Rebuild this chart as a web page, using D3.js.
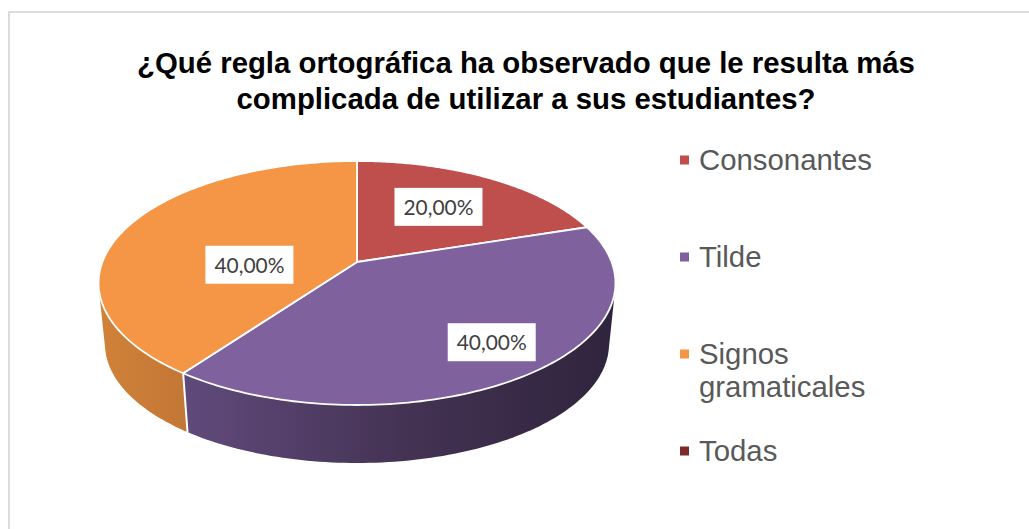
<!DOCTYPE html>
<html><head><meta charset="utf-8">
<script src="https://cdn.jsdelivr.net/npm/d3@7/dist/d3.min.js"></script>
<style>html,body{margin:0;padding:0;background:#fff}svg{display:block}</style>
</head><body><svg id="c" width="1029" height="529"></svg>
<script>
const titleLines = ["¿Qué regla ortográfica ha observado que le resulta más", "complicada de utilizar a sus estudiantes?"];
const categories = ["Consonantes", "Tilde", "Signos gramaticales", "Todas"];
const legendLines = [["Consonantes"], ["Tilde"], ["Signos", "gramaticales"], ["Todas"]];
const values = [20, 40, 40, 0];
const colors = ["#BE4F4D", "#7F619E", "#F49646", "#7F2A2A"];

const svg = d3.select("#c");
const defs = svg.append("defs");
const fmt = d3.formatLocale({decimal: ",", thousands: ".", grouping: [3], currency: ["", ""]}).format(".2f");

// frame
svg.append("path").attr("d", "M9,529V12H1029").attr("fill", "none").attr("stroke", "#dcdcdc").attr("stroke-width", 2);

// title
svg.append("g").selectAll("text").data(titleLines).join("text")
  .attr("x", 526).attr("y", (d, i) => 73 + i * 35.5)
  .attr("text-anchor", "middle").attr("font-family", "Liberation Sans")
  .attr("font-weight", "bold").attr("font-size", 29.35).attr("fill", "#000").text(d => d);

// perspective pie
const K = 0.172, A = 254.6, B = 118.4, CX = 357, CY = 262, DROP = 61.6, SHRINK = 0.975;
const project = (theta, r, lower) => {
  const u = r * Math.sin(theta), v = -r * Math.cos(theta), w = 1 - K * v, s = lower ? SHRINK : 1;
  return [CX + s * A * u / w, CY + (lower ? DROP : 0) + s * B * v / w];
};
const line = d3.line();
const rim = (a0, a1, lower) => d3.range(0, 1.0001, 1 / 120).map(t => project(a0 + (a1 - a0) * t, 1, lower));
const arcs = d3.pie().sort(null).value(d => d)(values);

// walls with gradient shading
const wallStops = {
  1: [[183, "#604a7c"], [400, "#453354"], [612, "#2f243d"]],
  2: [[98, "#d08239"], [187, "#c37735"]]
};
const wallG = svg.append("g");
[2, 1].forEach(i => {
  const a = arcs[i], id = "w" + i;
  const first = wallStops[i][0][0], last = wallStops[i][wallStops[i].length - 1][0];
  const g = defs.append("linearGradient").attr("id", id).attr("gradientUnits", "userSpaceOnUse")
    .attr("x1", first).attr("x2", last).attr("y1", 0).attr("y2", 0);
  const sc = d3.scaleLinear().domain([first, last]).range([0, 1]);
  wallStops[i].forEach(s => g.append("stop").attr("offset", sc(s[0])).attr("stop-color", s[1]));
  const hull = d3.polygonHull(rim(a.startAngle, a.endAngle, false).concat(rim(a.startAngle, a.endAngle, true)));
  wallG.append("path").attr("d", line(hull) + "Z").attr("fill", `url(#${id})`);
});
// white seam between the walls
svg.append("path").attr("d", line([project(arcs[1].endAngle, 1, false), project(arcs[1].endAngle, 1, true)]))
  .attr("stroke", "#fff").attr("stroke-width", 2).attr("fill", "none");

// top faces
svg.append("g").selectAll("path").data(arcs.filter(d => d.value > 0)).join("path")
  .attr("d", d => line([[CX, CY]].concat(rim(d.startAngle, d.endAngle, false))) + "Z")
  .attr("fill", (d, i) => colors[i]).attr("stroke", "#fff").attr("stroke-width", 1.8).attr("stroke-linejoin", "round");

// data labels
const labelPlace = [{r: .589, dy: -3}, {r: .80, dy: -6}, {r: .455, dy: 19}];
const labelG = svg.append("g");
arcs.filter(d => d.value > 0).forEach((d, i) => {
  const p = project((d.startAngle + d.endAngle) / 2, labelPlace[i].r, false);
  const x = p[0], y = p[1] + labelPlace[i].dy;
  labelG.append("rect").attr("x", x - 44).attr("y", y - 19).attr("width", 88).attr("height", 38).attr("fill", "#fff");
  labelG.append("text").attr("x", x).attr("y", y + 8).attr("text-anchor", "middle")
    .attr("textLength", 70).attr("lengthAdjust", "spacingAndGlyphs")
    .attr("font-family", "Lato").attr("font-size", 22).attr("fill", "#404040").text(fmt(d.value) + "%");
});

// legend
const legendRowY = [160, 257, 354, 451];
const legend = svg.append("g").selectAll("g").data(categories).join("g")
  .attr("transform", (d, i) => `translate(680,${legendRowY[i]})`);
legend.append("rect").attr("x", 0).attr("y", -4.5).attr("width", 9).attr("height", 9).attr("fill", (d, i) => colors[i]);
legend.each(function(d, i) {
  d3.select(this).selectAll("text").data(legendLines[i]).join("text")
    .attr("x", 19).attr("y", (t, j) => 10 + j * 33)
    .attr("font-family", "Liberation Sans").attr("font-size", 29.35).attr("fill", "#595959").text(t => t);
});
</script></body></html>
